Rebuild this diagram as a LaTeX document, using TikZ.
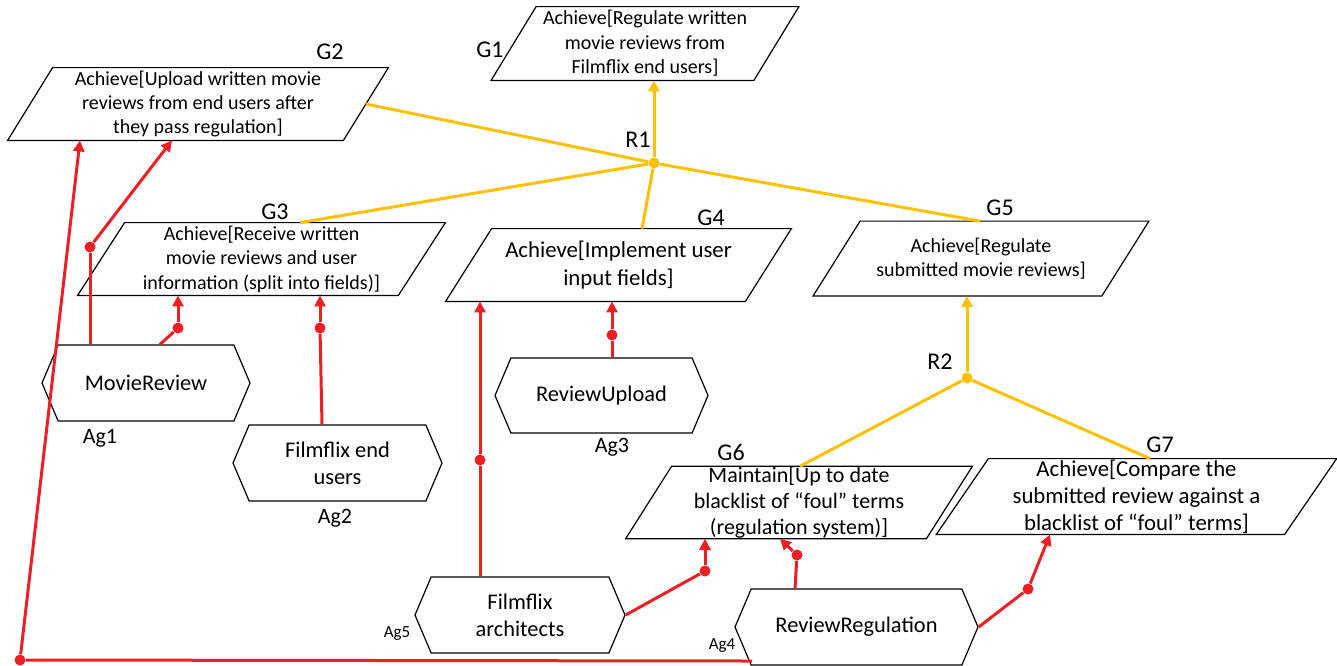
\documentclass[tikz,border=0pt]{standalone}
\usepackage{fontspec}
\setmainfont{Carlito}
\usetikzlibrary{shapes.symbols, arrows.meta}

\definecolor{kaosred}{RGB}{237,30,36}
\definecolor{kaosgold}{RGB}{255,192,0}

\tikzset{
  goal/.style={rectangle, align=center, inner sep=0pt,
    font=\fontsize{10}{12.2}\selectfont},
  goalline/.style={draw, line width=0.6pt},
  agent/.style={signal, signal to=west and east, signal pointer angle=134,
    draw, line width=0.6pt, align=center, inner sep=0pt,
    font=\fontsize{11.2}{13.5}\selectfont},
  tag/.style={inner sep=0pt, font=\fontsize{12}{14}\selectfont},
  smalltag/.style={inner sep=0pt, font=\fontsize{8.5}{10}\selectfont},
  rlink/.style={draw=kaosred, line width=1.5pt},
  ylink/.style={draw=kaosgold, line width=1.5pt},
  tip/.style={-{Triangle[length=5.5pt,width=5.5pt]}},
  rdot/.style={circle, fill=kaosred, inner sep=0pt, minimum size=5.5pt},
  ydot/.style={circle, fill=kaosgold, inner sep=0pt, minimum size=5.5pt},
}

\begin{document}
\begin{tikzpicture}[x=0.5pt, y=-0.5pt]
  %KAOS goal model, Filmflix reviews
  \useasboundingbox (0,0) rectangle (1337,665);

  % goals (text boxes, outlines drawn below)
  \node[goal, minimum width=131pt, minimum height=36.5pt] (G1) at (645,43.5)
    {Achieve[Regulate written\\movie reviews from\\Filmflix end users]};
  \node[goal, minimum width=167.5pt, minimum height=36pt] (G2) at (198,104)
    {Achieve[Upload written movie\\reviews from end users after\\they pass regulation]};
  \node[goal, minimum width=160pt, minimum height=36pt] (G3) at (261.5,259)
    {Achieve[Receive written\\movie reviews and user\\information (split into fields)]};
  \node[goal, minimum width=149.5pt, minimum height=36pt,
    font=\fontsize{11.4}{14}\selectfont] (G4) at (618.5,265)
    {Achieve[Implement user\\input fields]};
  \node[goal, minimum width=144pt, minimum height=37pt] (G5) at (981,258.5)
    {Achieve[Regulate\\submitted movie reviews]};
  \node[goal, minimum width=150pt, minimum height=35.5pt,
    font=\fontsize{11}{13}\selectfont] (G6) at (799,502.5)
    {Maintain[Up to date\\blacklist of “foul” terms\\(regulation system)]};
  \node[goal, minimum width=173.75pt, minimum height=37.5pt,
    font=\fontsize{11.4}{13.5}\selectfont] (G7) at (1136.5,496.5)
    {Achieve[Compare the\\submitted review against a\\blacklist of “foul” terms]};

  \foreach \g/\s in {G1/11.25pt, G2/11.25pt, G3/11.75pt, G4/11.5pt,
                     G5/11.75pt, G6/11.5pt, G7/13pt}
    \draw[goalline] ([xshift=\s]\g.north west) -- ([xshift=\s]\g.north east)
      -- ([xshift=-\s]\g.south east) -- ([xshift=-\s]\g.south west) -- cycle;

  % agents
  \node[agent, minimum width=104pt, minimum height=38pt] (Ag1) at (146,383) {MovieReview};
  \node[agent, minimum width=104.5pt, minimum height=38pt] (Ag2) at (337.5,463) {Filmflix end\\users};
  \node[agent, minimum width=106.5pt, minimum height=37.5pt] (Ag3) at (601.5,395.5) {ReviewUpload};
  \node[agent, minimum width=105pt, minimum height=38pt] (Ag5) at (520,615) {Filmflix\\architects};
  \node[agent, minimum width=121.5pt, minimum height=38pt] (Ag4) at (856.5,627) {ReviewRegulation};

  % names
  \node[tag] (tG1) at (490,50) {G1};
  \node[tag] (tG2) at (330,52) {G2};
  \node[tag] (tG3) at (275,212) {G3};
  \node[tag] (tG4) at (711,218) {G4};
  \node[tag] (tG5) at (1000,208) {G5};
  \node[tag] (tG6) at (731,452) {G6};
  \node[tag] (tG7) at (1160,445) {G7};
  \node[tag] (tR1) at (638,140) {R1};
  \node[tag] (tR2) at (940,362) {R2};
  \node[tag, font=\fontsize{11}{13}\selectfont] (tA1) at (100,438) {Ag1};
  \node[tag, font=\fontsize{11}{13}\selectfont] (tA2) at (335,518) {Ag2};
  \node[tag, font=\fontsize{11}{13}\selectfont] (tA3) at (612,447) {Ag3};
  \node[smalltag] (tA5) at (397,633) {Ag5};
  \node[smalltag] (tA4) at (722,645) {Ag4};

  % refinements
  \node[ydot] (R1) at (654,163) {};
  \node[ydot] (R2) at (967,378) {};
  \draw[ylink, tip] (R1) -- (R1 |- G1.south);
  \draw[ylink] (R1) -- (G2.east);
  \draw[ylink] (R1) -- (G3.north -| 300,0);
  \draw[ylink] (R1) -- (G4.north -| 642,0);
  \draw[ylink] (R1) -- (G5.north -| 980,0);
  \draw[ylink, tip] (R2) -- (R2 |- G5.south);
  \draw[ylink] (R2) -- (G6.north -| 800,0);
  \draw[ylink] (R2) -- (G7.north -| 1150,0);

  % responsibilities
  \node[rdot] (m1) at (90,247) {};
  \node[rdot] (m2) at (178,328) {};
  \node[rdot] (m3) at (320,328) {};
  \node[rdot] (m4) at (612,335) {};
  \node[rdot] (m5) at (480,460) {};
  \node[rdot] (m6) at (705,571) {};
  \node[rdot] (m7) at (797,555) {};
  \node[rdot] (m8) at (1028,589) {};
  \node[rdot] (m9) at (20,660) {};
  \coordinate (foot4) at (752,661);

  \draw[rlink] (Ag1.north -| m1) -- (m1);
  \draw[rlink, tip] (m1) -- (G2.south -| 172,0);
  \draw[rlink] (Ag1.north -| 160,0) -- (m2);
  \draw[rlink, tip] (m2) -- (m2 |- G3.south);
  \draw[rlink] (Ag2.north -| 322,0) -- (m3);
  \draw[rlink, tip] (m3) -- (m3 |- G3.south);
  \draw[rlink] (Ag3.north -| m4) -- (m4);
  \draw[rlink, tip] (m4) -- (m4 |- G4.south);
  \draw[rlink] (Ag5.north -| m5) -- (m5);
  \draw[rlink, tip] (m5) -- (m5 |- G4.south);
  \draw[rlink] (Ag5.east) -- (m6);
  \draw[rlink, tip] (m6) -- (m6 |- G6.south);
  \draw[rlink] (Ag4.north -| 795,0) -- (m7);
  \draw[rlink, tip] (m7) -- (G6.south -| 780,0);
  \draw[rlink] (Ag4.east) -- (m8);
  \draw[rlink, tip] (m8) -- (G7.south -| 1050,0);
  \draw[rlink] (foot4) -- (m9);
  \draw[rlink, tip] (m9) -- (G2.south -| 80,0);
\end{tikzpicture}
\end{document}
